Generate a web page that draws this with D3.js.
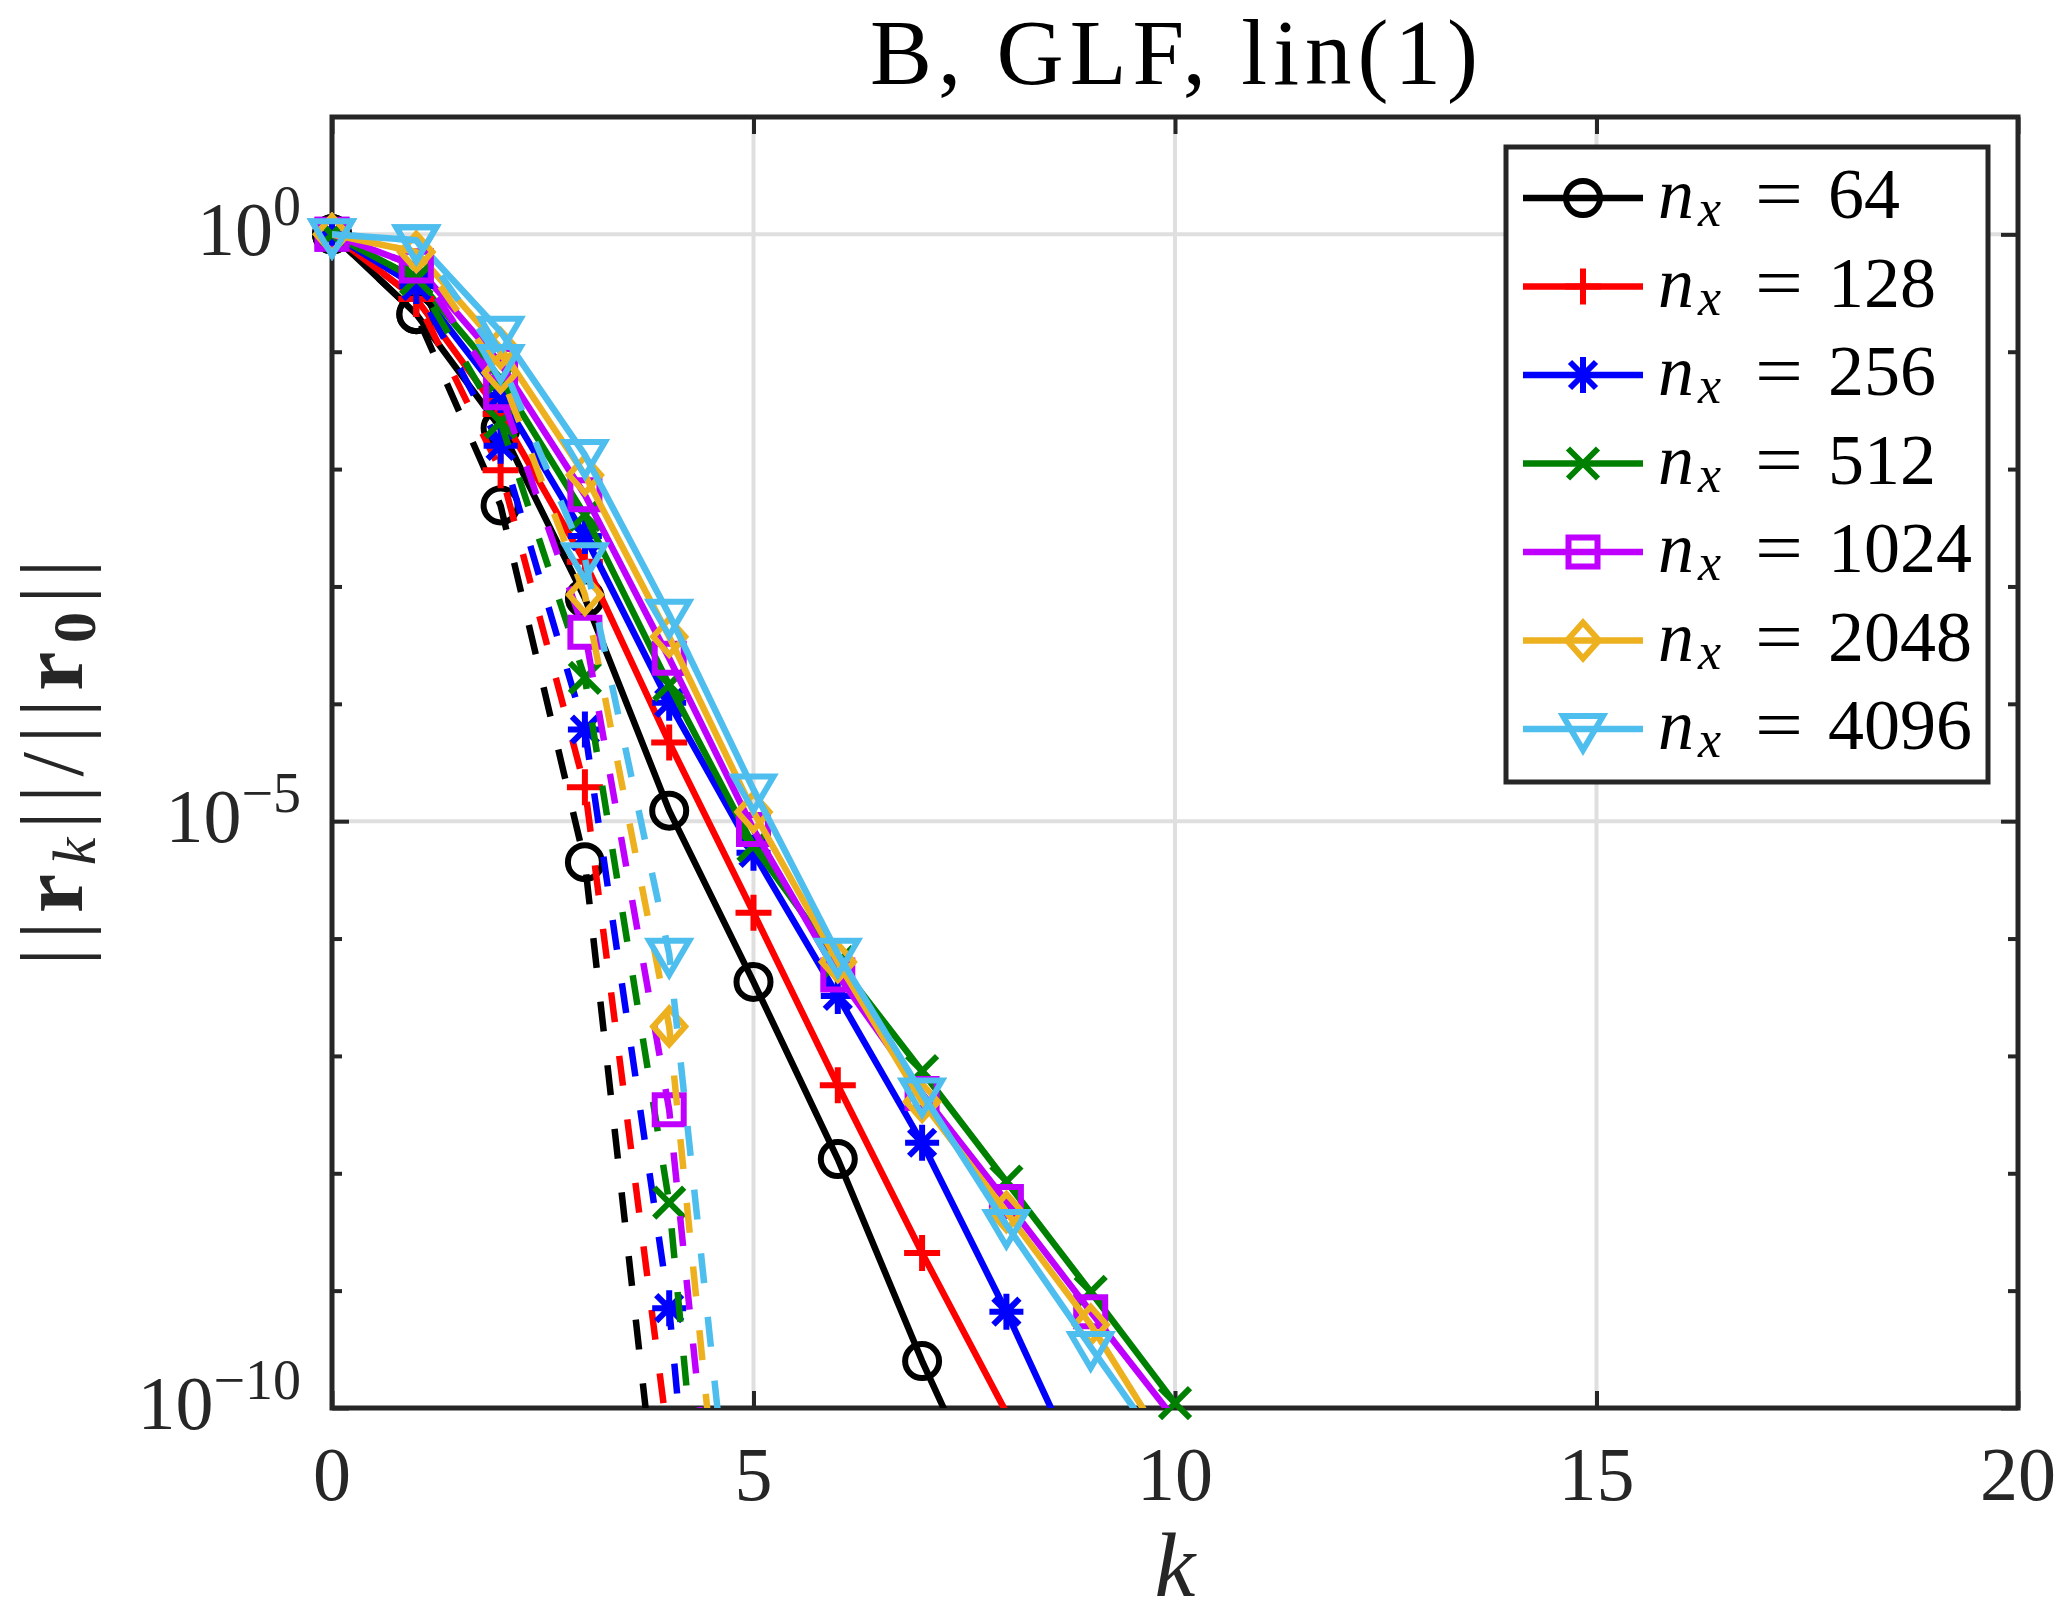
<!DOCTYPE html>
<html>
<head>
<meta charset="utf-8">
<script src="https://cdn.jsdelivr.net/npm/d3@7"></script>
<style>
  body { margin: 0; background: #fff; }
  svg { display: block; }
</style>
</head>
<body>
<svg id="chart" width="2055" height="1618"></svg>
<script>
// Relative residual ||r_k|| / ||r_0|| per iteration k (index = k)
const gridSizes = [64, 128, 256, 512, 1024, 2048, 4096];

// solid curves
const solid64   = [1, 2.09e-1, 2.24e-2, 7.94e-4, 1.23e-5, 4.27e-7, 1.32e-8, 2.51e-10, 6.76e-12];
const solid128  = [1, 2.82e-1, 2.95e-2, 1.62e-3, 4.68e-5, 1.66e-6, 5.62e-8, 2.09e-9, 9.12e-11];
const solid256  = [1, 3.63e-1, 4.27e-2, 2.69e-3, 1.02e-4, 5.37e-6, 3.24e-7, 1.82e-8, 6.61e-10, 1.86e-11];
const solid512  = [1, 4.17e-1, 5.89e-2, 4.07e-3, 1.45e-4, 6.17e-6, 6.31e-7, 7.41e-8, 8.51e-9, 9.77e-10, 1.10e-10];
const solid1024 = [1, 5.37e-1, 7.94e-2, 6.03e-3, 2.45e-4, 8.51e-6, 4.90e-7, 4.79e-8, 5.75e-9, 6.61e-10, 7.94e-11];
const solid2048 = [1, 7.08e-1, 1.07e-1, 8.91e-3, 3.72e-4, 1.20e-5, 6.31e-7, 4.07e-8, 4.68e-9, 5.13e-10, 3.63e-11];
const solid4096 = [1, 8.91e-1, 1.48e-1, 1.32e-2, 5.75e-4, 1.86e-5, 7.41e-7, 4.79e-8, 3.63e-9, 3.31e-10, 3.16e-11];

// dashed curves
const dashed64   = [1, 2.09e-1, 4.90e-3, 4.47e-6, 1.55e-12];
const dashed128  = [1, 2.82e-1, 9.77e-3, 1.95e-5, 4.57e-11];
const dashed256  = [1, 3.63e-1, 1.58e-2, 6.03e-5, 7.08e-10, 1.26e-17];
const dashed512  = [1, 4.17e-1, 2.51e-2, 1.66e-4, 5.62e-9, 1.26e-16];
const dashed1024 = [1, 5.37e-1, 4.47e-2, 4.07e-4, 3.47e-8, 3.16e-15];
const dashed2048 = [1, 7.08e-1, 6.61e-2, 8.51e-4, 1.78e-7, 1.07e-14];
const dashed4096 = [1, 8.91e-1, 8.51e-2, 1.74e-3, 7.41e-7, 1.26e-13];

const xTicks = [0, 5, 10, 15, 20];
const yTicks = [1e0, 1e-5, 1e-10];
const yTickExps = ["0", "\u22125", "\u221210"];
const yMinorTicks = [1e-1, 1e-2, 1e-3, 1e-4, 1e-6, 1e-7, 1e-8, 1e-9];

const colors = ["#000000", "#ff0000", "#0000ff", "#008000", "#bf00ff", "#edb120", "#4dbeee"];
const markers = ["circle", "plus", "asterisk", "cross", "square", "diamond", "triangleDown"];

const solidData = [solid64, solid128, solid256, solid512, solid1024, solid2048, solid4096];
const dashedData = [dashed64, dashed128, dashed256, dashed512, dashed1024, dashed2048, dashed4096];

const series = gridSizes.map((nx, i) => ({
  nx, color: colors[i], marker: markers[i], solid: solidData[i], dashed: dashedData[i]
}));

// ---- layout ----
const W = 2055, H = 1618;
const pLeft = 332, pRight = 2018, pTop = 117, pBottom = 1408;
const axisColor = "#262626";
const font = "'Liberation Serif', 'Times New Roman', serif";
const lineW = 6.5, markW = 6;

const svg = d3.select("#chart");
svg.append("rect").attr("width", W).attr("height", H).attr("fill", "#fff");

const x = d3.scaleLinear().domain([0, 20]).range([pLeft, pRight]);
const y = d3.scaleLog().domain([1e-10, 1e1]).range([pBottom, pTop]);

svg.append("defs").append("clipPath").attr("id", "plotClip")
  .append("rect")
  .attr("x", pLeft).attr("y", pTop)
  .attr("width", pRight - pLeft).attr("height", pBottom - pTop);

// grid
const grid = svg.append("g").attr("stroke", "#dfdfdf").attr("stroke-width", 4);
grid.selectAll(".gx").data(xTicks.slice(1, -1)).join("line")
  .attr("class", "gx")
  .attr("x1", d => x(d)).attr("x2", d => x(d))
  .attr("y1", pTop).attr("y2", pBottom);
grid.selectAll(".gy").data(yTicks.slice(0, -1)).join("line")
  .attr("class", "gy")
  .attr("x1", pLeft).attr("x2", pRight)
  .attr("y1", d => y(d)).attr("y2", d => y(d));

// ticks via d3 axes (inward), labels drawn separately
function styleAxis(g) {
  g.select(".domain").remove();
  g.selectAll(".tick line").attr("stroke", axisColor).attr("stroke-width", 4);
  g.selectAll(".tick text").remove();
}
const majorLen = 17, minorLen = 10;
svg.append("g").attr("transform", `translate(0,${pBottom})`)
  .call(d3.axisBottom(x).tickValues(xTicks).tickSize(-majorLen)).call(styleAxis);
svg.append("g").attr("transform", `translate(0,${pTop})`)
  .call(d3.axisTop(x).tickValues(xTicks).tickSize(-majorLen)).call(styleAxis);
svg.append("g").attr("transform", `translate(${pLeft},0)`)
  .call(d3.axisLeft(y).tickValues(yTicks).tickSize(-majorLen)).call(styleAxis);
svg.append("g").attr("transform", `translate(${pRight},0)`)
  .call(d3.axisRight(y).tickValues(yTicks).tickSize(-majorLen)).call(styleAxis);
svg.append("g").attr("transform", `translate(${pLeft},0)`)
  .call(d3.axisLeft(y).tickValues(yMinorTicks).tickSize(-minorLen)).call(styleAxis);
svg.append("g").attr("transform", `translate(${pRight},0)`)
  .call(d3.axisRight(y).tickValues(yMinorTicks).tickSize(-minorLen)).call(styleAxis);

// box
svg.append("rect")
  .attr("x", pLeft).attr("y", pTop)
  .attr("width", pRight - pLeft).attr("height", pBottom - pTop)
  .attr("fill", "none").attr("stroke", axisColor).attr("stroke-width", 5);

// x tick labels
svg.append("g").selectAll("text").data(xTicks).join("text")
  .attr("x", d => x(d)).attr("y", pBottom + 92)
  .attr("text-anchor", "middle")
  .attr("font-family", font).attr("font-size", 76).attr("fill", axisColor)
  .text(d => d);

// y tick labels 10^n
const yLab = svg.append("g").selectAll("text").data(yTicks).join("text")
  .attr("x", 301).attr("y", d => y(d) + 21)
  .attr("text-anchor", "end")
  .attr("font-family", font).attr("fill", axisColor);
yLab.append("tspan").attr("font-size", 76).text("10");
yLab.append("tspan").attr("font-size", 56).attr("dy", -30).text((d, i) => yTickExps[i]);

// title
svg.append("text")
  .attr("x", (pLeft + pRight) / 2 + 2).attr("y", 84)
  .attr("text-anchor", "middle")
  .attr("font-family", font).attr("font-size", 93)
  .attr("letter-spacing", 6).attr("fill", "#000")
  .text("B, GLF, lin(1)");

// x label
svg.append("text")
  .attr("x", (pLeft + pRight) / 2).attr("y", 1596)
  .attr("text-anchor", "middle")
  .attr("font-family", font).attr("font-size", 92)
  .attr("font-style", "italic").attr("fill", axisColor)
  .text("k");

// y label ||r_k|| / ||r_0||
const yl = svg.append("text")
  .attr("transform", `translate(82,${(pTop + pBottom) / 2}) rotate(-90)`)
  .attr("text-anchor", "middle")
  .attr("font-family", font).attr("font-size", 88).attr("fill", axisColor)
  .attr("textLength", 406).attr("lengthAdjust", "spacing");
yl.append("tspan").text("||");
yl.append("tspan").attr("font-weight", "bold").text("r");
yl.append("tspan").attr("font-style", "italic").attr("font-size", 62).attr("dy", 13).text("k");
yl.append("tspan").attr("dy", -13).text("||/||");
yl.append("tspan").attr("font-weight", "bold").text("r");
yl.append("tspan").attr("font-weight", "bold").attr("font-size", 62).attr("dy", 13).text("0");
yl.append("tspan").attr("dy", -13).text("||");

// marker shapes
function markerPath(type) {
  const p = d3.path();
  switch (type) {
    case "circle":
      p.moveTo(17, 0); p.arc(0, 0, 17, 0, 2 * Math.PI); break;
    case "plus":
      p.moveTo(-18, 0); p.lineTo(18, 0); p.moveTo(0, -18); p.lineTo(0, 18); break;
    case "asterisk":
      p.moveTo(-17, 0); p.lineTo(17, 0); p.moveTo(0, -18); p.lineTo(0, 18);
      p.moveTo(-13, -13); p.lineTo(13, 13); p.moveTo(-13, 13); p.lineTo(13, -13); break;
    case "cross":
      p.moveTo(-15, -15); p.lineTo(15, 15); p.moveTo(-15, 15); p.lineTo(15, -15); break;
    case "square":
      p.rect(-14.5, -14.5, 29, 29); break;
    case "diamond":
      p.moveTo(0, -18); p.lineTo(16, 0); p.lineTo(0, 18); p.lineTo(-16, 0); p.closePath(); break;
    case "triangleDown":
      p.moveTo(-20, -13); p.lineTo(20, -13); p.lineTo(0, 21); p.closePath(); break;
  }
  return p.toString();
}

const line = d3.line().x((d, i) => x(i)).y(d => y(d));
const plot = svg.append("g");

function drawSeries(s, values, dashed) {
  plot.append("path")
    .attr("clip-path", "url(#plotClip)")
    .attr("d", line(values))
    .attr("fill", "none")
    .attr("stroke", s.color)
    .attr("stroke-width", lineW)
    .attr("stroke-linejoin", "round")
    .attr("stroke-dasharray", dashed ? "30,34" : null);
  const pts = values.map((v, i) => ({ k: i, v })).filter(d => d.v >= 1e-10 * 0.98);
  plot.append("g").selectAll("path").data(pts).join("path")
    .attr("transform", d => `translate(${x(d.k)},${y(d.v)})`)
    .attr("d", markerPath(s.marker))
    .attr("fill", "none")
    .attr("stroke", s.color)
    .attr("stroke-width", markW);
}
series.forEach(s => drawSeries(s, s.solid, false));
series.forEach(s => drawSeries(s, s.dashed, true));

// legend
const lg = svg.append("g");
lg.append("rect")
  .attr("x", 1506).attr("y", 147).attr("width", 482).attr("height", 635)
  .attr("fill", "#fff").attr("stroke", axisColor).attr("stroke-width", 5);
const rowY = i => 198 + i * 88.5;
series.forEach((s, i) => {
  const ry = rowY(i);
  lg.append("line")
    .attr("x1", 1523).attr("x2", 1643).attr("y1", ry).attr("y2", ry)
    .attr("stroke", s.color).attr("stroke-width", lineW);
  lg.append("path")
    .attr("transform", `translate(1583,${ry})`)
    .attr("d", markerPath(s.marker))
    .attr("fill", "none").attr("stroke", s.color).attr("stroke-width", markW);
  lg.append("text").attr("x", 1658).attr("y", ry + 20)
    .attr("font-family", font).attr("font-size", 72).attr("font-style", "italic")
    .text("n");
  lg.append("text").attr("x", 1698).attr("y", ry + 28)
    .attr("font-family", font).attr("font-size", 52).attr("font-style", "italic")
    .text("x");
  lg.append("text").attr("x", 1755).attr("y", ry + 20)
    .attr("font-family", font).attr("font-size", 72)
    .attr("textLength", 48).attr("lengthAdjust", "spacingAndGlyphs")
    .text("=");
  lg.append("text").attr("x", 1828).attr("y", ry + 20)
    .attr("font-family", font).attr("font-size", 72)
    .text(s.nx);
});
</script>
</body>
</html>
